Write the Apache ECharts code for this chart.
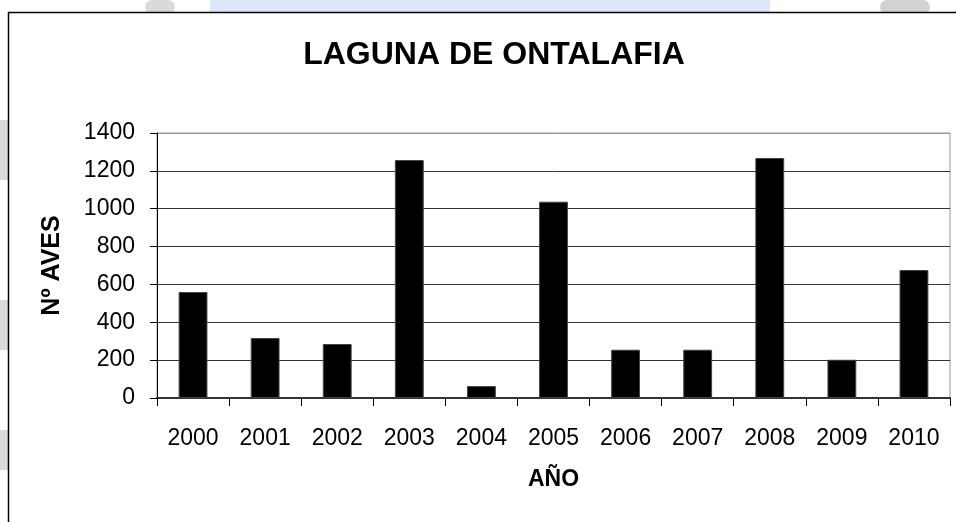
<!DOCTYPE html>
<html>
<head>
<meta charset="utf-8">
<script src="https://cdn.jsdelivr.net/npm/echarts@6/dist/echarts.min.js"></script>
<style>
  html, body { margin: 0; padding: 0; background: #fff; }
  #chart { width: 956px; height: 522px; }
</style>
</head>
<body>
<div id="chart"></div>
<script>
(function () {
    var myChart = echarts.init(document.getElementById('chart'));

    // años y nº de aves
    const years = ['2000', '2001', '2002', '2003', '2004', '2005', '2006', '2007', '2008', '2009', '2010'];
    const birds = [560, 317, 285, 1257, 63, 1037, 255, 255, 1268, 202, 676];
    const yTicks = [0, 200, 400, 600, 800, 1000, 1200, 1400];

    const font = 'Arial, "Liberation Sans", sans-serif';

    option = {
        backgroundColor: '#fff',
        animation: false,
        graphic: [
            // marca de agua del fondo
            { type: 'rect', z: -10, shape: { x: 210, y: 0, width: 560, height: 14 }, style: { fill: '#dde6fb' } },
            { type: 'rect', z: -10, shape: { x: 145, y: 0, width: 30, height: 14, r: 8 }, style: { fill: '#dadada' } },
            { type: 'rect', z: -10, shape: { x: 880, y: 0, width: 50, height: 14, r: 10 }, style: { fill: '#d2d2d2' } },
            { type: 'rect', z: -10, shape: { x: 0, y: 120, width: 8, height: 60 }, style: { fill: '#dadada' } },
            { type: 'rect', z: -10, shape: { x: 0, y: 300, width: 8, height: 50 }, style: { fill: '#dadada' } },
            { type: 'rect', z: -10, shape: { x: 0, y: 430, width: 8, height: 40 }, style: { fill: '#dadada' } },
            // recuadro del gráfico
            {
                type: 'rect',
                z: -5,
                shape: { x: 8.5, y: 12.5, width: 960, height: 530 },
                style: { fill: '#fff', stroke: '#000', lineWidth: 1.5 }
            }
        ],
        title: {
            text: 'LAGUNA DE ONTALAFIA',
            left: 489,
            top: 34,
            textAlign: 'center',
            textStyle: {
                fontFamily: font,
                fontSize: 32,
                fontWeight: 'bold',
                color: '#000'
            }
        },
        grid: {
            left: 157,
            right: 6,
            top: 133,
            bottom: 124,
            show: true,
            borderColor: '#999',
            borderWidth: 1
        },
        xAxis: {
            type: 'category',
            data: years,
            name: 'AÑO',
            nameLocation: 'middle',
            nameGap: 70,
            nameTextStyle: {
                fontFamily: font,
                fontSize: 23,
                fontWeight: 'bold',
                color: '#000'
            },
            axisLine: { lineStyle: { color: '#333', width: 2 } },
            axisTick: { show: true, alignWithLabel: false, length: 8, lineStyle: { color: '#000' } },
            axisLabel: {
                margin: 29,
                fontFamily: font,
                fontSize: 23,
                color: '#000'
            }
        },
        yAxis: {
            type: 'value',
            min: 0,
            max: 1400,
            interval: 200,
            name: 'Nº AVES',
            nameLocation: 'middle',
            nameGap: 92,
            nameTextStyle: {
                fontFamily: font,
                fontSize: 25,
                fontWeight: 'bold',
                color: '#000'
            },
            axisLine: { show: true, lineStyle: { color: '#000', width: 1 } },
            axisTick: { show: true, length: 7, lineStyle: { color: '#000' } },
            axisLabel: {
                margin: 22,
                fontFamily: font,
                fontSize: 23,
                color: '#000',
                formatter: function (v) { return yTicks.indexOf(v) >= 0 ? String(v) : ''; }
            },
            splitLine: {
                lineStyle: {
                    color: ['#333', '#333', '#333', '#333', '#333', '#333', '#333', '#999'],
                    width: 1
                }
            }
        },
        series: [
            {
                type: 'bar',
                data: birds,
                barWidth: '40%',
                itemStyle: {
                    color: '#000',
                    borderColor: '#444',
                    borderWidth: 1
                }
            }
        ]
    };

    myChart.setOption(option);

    window.addEventListener('resize', function () {
        myChart.resize();
    })
})()
</script>
</body>
</html>
